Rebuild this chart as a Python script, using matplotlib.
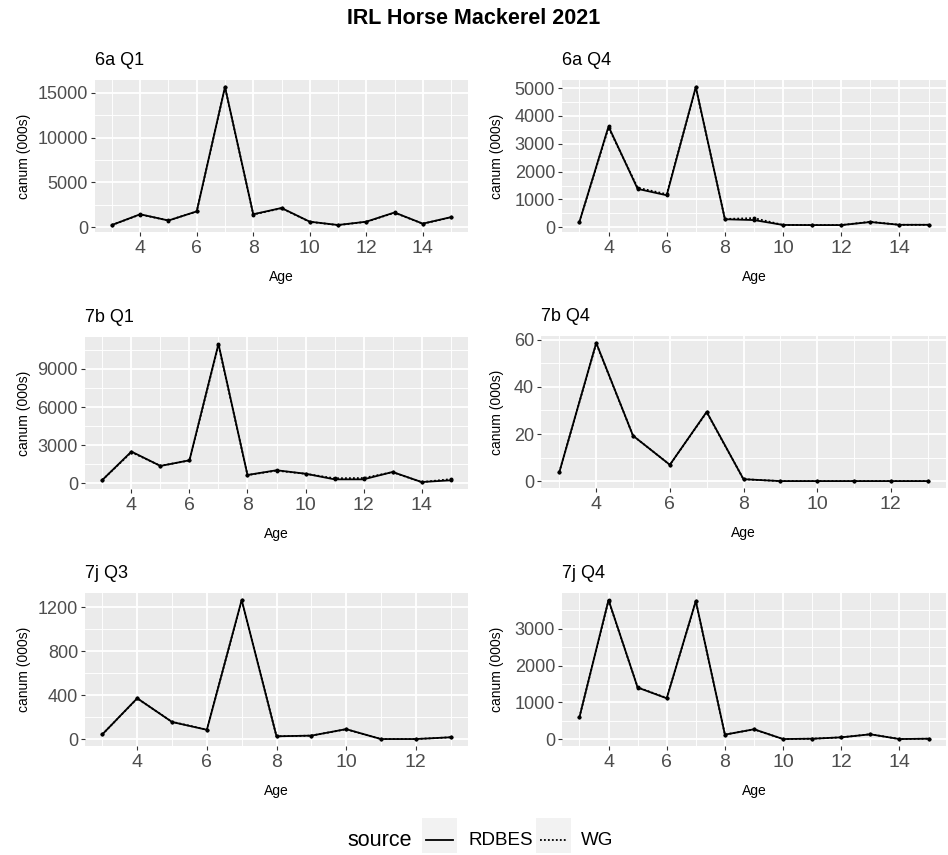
import matplotlib
matplotlib.use("Agg")
import matplotlib.pyplot as plt
from matplotlib.ticker import FixedLocator
from matplotlib.lines import Line2D
from matplotlib.patches import Rectangle
import numpy as np

plt.rcParams['font.family'] = ['Liberation Sans', 'DejaVu Sans']

titles = ["6a Q1", "6a Q4", "7b Q1", "7b Q4", "7j Q3", "7j Q4"]

ages_15 = [3, 4, 5, 6, 7, 8, 9, 10, 11, 12, 13, 14, 15]
ages_13 = [3, 4, 5, 6, 7, 8, 9, 10, 11, 12, 13]

rdbes_6aQ1 = [250, 1450, 750, 1770, 15680, 1450, 2150, 620, 250, 620, 1650, 400, 1130]
wg_6aQ1    = [250, 1420, 760, 1760, 15650, 1420, 2120, 600, 240, 600, 1620, 390, 1110]

rdbes_6aQ4 = [200, 3620, 1380, 1150, 5040, 290, 260, 85, 80, 80, 190, 90, 90]
wg_6aQ4    = [200, 3580, 1420, 1190, 5020, 300, 330, 85, 80, 80, 200, 90, 90]

rdbes_7bQ1 = [270, 2500, 1370, 1815, 10970, 660, 1030, 760, 316, 316, 895, 105, 240]
wg_7bQ1    = [270, 2450, 1380, 1800, 10900, 650, 1000, 750, 400, 420, 880, 100, 330]

rdbes_7bQ4 = [4, 58.6, 19.3, 7, 29.4, 0.9, 0.1, 0.1, 0.1, 0.1, 0.1]
wg_7bQ4    = [4, 58.4, 19.3, 7, 29.2, 0.9, 0.1, 0.1, 0.1, 0.1, 0.1]

rdbes_7jQ3 = [46, 374, 158, 87, 1268, 28, 34, 93, 3, 3, 19]
wg_7jQ3    = [46, 372, 160, 88, 1265, 28, 34, 92, 3, 3, 19]

rdbes_7jQ4 = [602, 3775, 1404, 1112, 3748, 128, 274, 9, 18, 55, 137, 9, 18]
wg_7jQ4    = [602, 3760, 1410, 1120, 3735, 130, 270, 9, 18, 55, 140, 9, 18]

sources = ["RDBES", "WG"]

panel_x = [ages_15, ages_15, ages_15, ages_13, ages_13, ages_15]
panel_rdbes = [rdbes_6aQ1, rdbes_6aQ4, rdbes_7bQ1, rdbes_7bQ4, rdbes_7jQ3, rdbes_7jQ4]
panel_wg = [wg_6aQ1, wg_6aQ4, wg_7bQ1, wg_7bQ4, wg_7jQ3, wg_7jQ4]
yticks = [[0, 5000, 10000, 15000], [0, 1000, 2000, 3000, 4000, 5000],
          [0, 3000, 6000, 9000], [0, 20, 40, 60], [0, 400, 800, 1200],
          [0, 1000, 2000, 3000]]
xticks_15 = [4, 6, 8, 10, 12, 14]
xticks_13 = [4, 6, 8, 10, 12]
panel_xticks = [xticks_15, xticks_15, xticks_15, xticks_13, xticks_13, xticks_15]

DOT = (0, (1, 1.2))

W, H = 948, 855
fig = plt.figure(figsize=(W / 100, H / 100), dpi=100)

# pixel boxes: left, right, top, bottom
boxes = [(95, 468, 80, 232), (562, 946, 80, 232),
         (85, 468, 337, 489), (541, 946, 336, 488),
         (85, 468, 593, 746), (562, 946, 593, 746)]
ylabel_right = [31, 504, 31, 504, 31, 504]

for i in range(6):
    l, r, t, b = boxes[i]
    ax = fig.add_axes([l / W, 1 - b / H, (r - l) / W, (b - t) / H])
    ax.set_facecolor('#EBEBEB')
    for s in ax.spines.values():
        s.set_visible(False)
    x = panel_x[i]
    ax.plot(x, panel_rdbes[i], color='black', lw=1.3, ls='-', marker='o', ms=1.8, zorder=3)
    ax.plot(x, panel_wg[i], color='black', lw=1.3, ls=DOT, marker='o', ms=1.8, zorder=3)
    xmin, xmax = min(x), max(x)
    xr = xmax - xmin
    ax.set_xlim(xmin - 0.05 * xr, xmax + 0.05 * xr)
    allv = list(panel_rdbes[i]) + list(panel_wg[i])
    ymin, ymax = min(allv), max(allv)
    yr = ymax - ymin
    ax.set_ylim(ymin - 0.05 * yr, ymax + 0.05 * yr)
    xt = panel_xticks[i]
    yt = yticks[i]
    ax.xaxis.set_major_locator(FixedLocator(xt))
    ax.yaxis.set_major_locator(FixedLocator(yt))
    xstep = xt[1] - xt[0]
    ystep = yt[1] - yt[0]
    xminor = np.arange(xt[0] - 1.5 * xstep, xt[-1] + 1.5 * xstep, xstep / 2)
    xminor = [v for v in xminor if v not in xt]
    yminor = np.arange(yt[0] - 1.5 * ystep, yt[-1] + 1.5 * ystep, ystep / 2)
    yminor = [v for v in yminor if v not in yt]
    ax.xaxis.set_minor_locator(FixedLocator(xminor))
    ax.yaxis.set_minor_locator(FixedLocator(yminor))
    ax.grid(which='major', color='white', lw=1.3)
    ax.grid(which='minor', color='white', lw=0.65)
    ax.set_axisbelow(True)
    ax.tick_params(which='major', length=3, width=0.8, color='#333333',
                   labelcolor='#4D4D4D')
    ax.tick_params(axis='x', which='major', labelsize=14, pad=3)
    ax.tick_params(axis='y', which='major', labelsize=13, pad=2)
    ax.tick_params(which='minor', length=0)
    ax.set_xlabel('Age', fontsize=10, labelpad=9)
    ax.set_ylabel('canum (000s)', fontsize=10)
    ax.yaxis.set_label_coords((ylabel_right[i] - l) / (r - l), 0.5, transform=ax.transAxes)
    ax.set_title(titles[i], loc='left', fontsize=13, pad=11)

fig.text(474 / W, 1 - 19 / H, 'IRL Horse Mackerel 2021', ha='center', va='center',
         fontsize=15.5, fontweight='bold')

# legend (drawn manually, ggplot style, horizontal at bottom)
ly = 1 - 840 / H
fig.text(347 / W, ly, 'source', ha='left', va='center', fontsize=15.5)
key_boxes = [(422, 457), (536, 571)]
label_x = [468, 581]
styles = ['-', DOT]
for k in range(2):
    x0, x1 = key_boxes[k]
    fig.patches.append(Rectangle((x0 / W, 1 - 853 / H), (x1 - x0) / W, 35 / H,
                                 transform=fig.transFigure, facecolor='#F2F2F2',
                                 edgecolor='none'))
    fig.lines.append(Line2D([(x0 + 4) / W, (x1 - 4) / W], [ly, ly], transform=fig.transFigure,
                            color='black', lw=1.3, ls=styles[k]))
    fig.text(label_x[k] / W, ly, sources[k], ha='left', va='center', fontsize=13.5)

fig.savefig('out.png', dpi=100)
